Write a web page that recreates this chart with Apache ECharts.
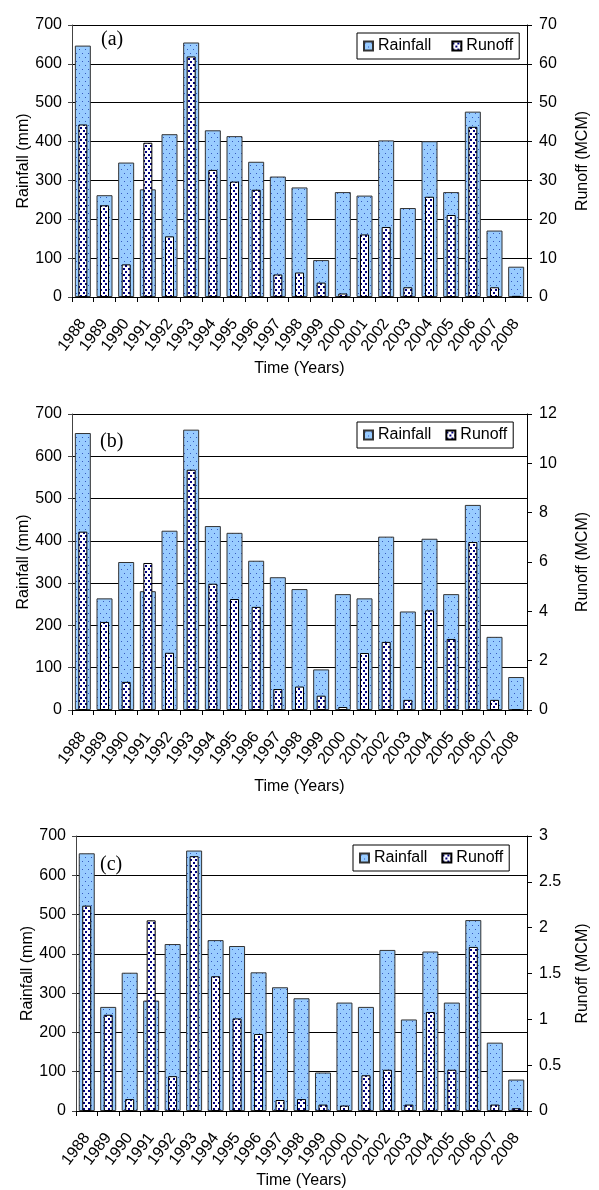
<!DOCTYPE html>
<html>
<head>
<meta charset="utf-8">
<script src="https://cdn.jsdelivr.net/npm/echarts@6/dist/echarts.min.js"></script>
<style>
html,body{margin:0;padding:0;background:#fff;}
#chart{width:599px;height:1190px;}
</style>
</head>
<body>
<div id="chart"></div>
<script>
// ---- data ----
const years = ['1988','1989','1990','1991','1992','1993','1994','1995','1996','1997','1998','1999','2000','2001','2002','2003','2004','2005','2006','2007','2008'];

const rainA = [647,262,346,277,419,655,429,414,348,310,282,95,270,261,403,229,401,270,477,171,78];
const runoffA = [44.4,23.6,8.4,39.7,15.6,61.9,32.7,29.7,27.6,5.8,6.3,3.7,0.9,16.1,18.0,2.5,25.8,21.1,43.8,2.5,0.3];

const rainB = [655,264,350,281,424,663,435,419,353,314,286,96,274,264,410,233,405,274,485,173,78];
const runoffB = [7.23,3.57,1.14,5.96,2.32,9.74,5.12,4.50,4.18,0.85,0.95,0.58,0.12,2.31,2.76,0.41,4.04,2.88,6.81,0.41,0.02];

const rainC = [656,265,352,281,425,663,435,420,353,315,287,98,276,265,410,233,406,276,486,174,80];
const runoffC = [2.24,1.05,0.13,2.08,0.38,2.78,1.47,1.01,0.84,0.12,0.13,0.07,0.06,0.39,0.45,0.07,1.08,0.45,1.79,0.07,0.03];

const panelLabels = ['(a)','(b)','(c)'];
const rainAxisMax = [700,700,700];
const rainAxisStep = [100,100,100];
const runoffAxisMax = [70,12,3];
const runoffAxisStep = [10,2,0.5];

// ---- patterns ----
function makePattern(bg, fg, w, h, dots, ds){
  const c = document.createElement('canvas');
  c.width = w; c.height = h;
  const g = c.getContext('2d');
  g.fillStyle = bg; g.fillRect(0,0,w,h);
  g.fillStyle = fg;
  dots.forEach(p => g.fillRect(p[0], p[1], ds, ds));
  return {image: c, repeat: 'repeat'};
}
const rainPattern = makePattern('#99CCFF', '#3559C0', 6, 8, [[1,1],[4,5]], 1);
const runoffPattern = makePattern('#FFFFFF', '#000080', 5, 6, [[0,1],[3,4]], 2);

const FONT = 'Liberation Sans';

const grids = [
  {left:72, right:57, top:25, height:272},
  {left:72, right:58, top:414, height:296},
  {left:76, right:61, top:836, height:276}
];
const legendPos = [
  {left:357, top:33, itemGap:20},
  {left:357, top:422, itemGap:14},
  {left:353, top:845, itemGap:14}
];
const labelPos = [
  {left:101, top:30},
  {left:100, top:432},
  {left:100, top:855}
];
const xNameGap = [64, 69, 62];
const rainSets = [rainA, rainB, rainC];
const runoffSets = [runoffA, runoffB, runoffC];

const xAxes = [], yAxes = [], series = [], legends = [], graphics = [];

for (let i = 0; i < 3; i++) {
  xAxes.push({
    type:'category', gridIndex:i, data:years,
    axisLine:{show:true, lineStyle:{color:'#000', width:1}},
    axisTick:{show:true, length:5, lineStyle:{color:'#000'}},
    axisLabel:{rotate:53, interval:0, margin:24, fontSize:16, fontFamily:FONT, color:'#000'},
    name:'Time (Years)', nameLocation:'middle', nameGap:xNameGap[i], nameMoveOverlap:false,
    nameTextStyle:{fontSize:16, fontFamily:FONT, color:'#000'}
  });
  xAxes.push({type:'category', gridIndex:i, data:years, show:false});

  yAxes.push({
    type:'value', gridIndex:i, position:'left', min:0, max:rainAxisMax[i], interval:rainAxisStep[i],
    axisLine:{show:true, lineStyle:{color:'#444'}},
    axisTick:{show:true, length:4, lineStyle:{color:'#444'}},
    axisLabel:{margin:10, fontSize:16, fontFamily:FONT, color:'#000'},
    splitLine:{show:true, lineStyle:{color:'#000', width:1}},
    name:'Rainfall (mm)', nameLocation:'middle', nameGap:40, nameMoveOverlap:false,
    nameTextStyle:{fontSize:16, fontFamily:FONT, color:'#000'}
  });
  yAxes.push({
    type:'value', gridIndex:i, position:'right', min:0, max:runoffAxisMax[i], interval:runoffAxisStep[i],
    axisLine:{show:true, lineStyle:{color:'#000'}},
    axisTick:{show:true, length:5, lineStyle:{color:'#000'}},
    axisLabel:{margin:12, fontSize:16, fontFamily:FONT, color:'#000'},
    splitLine:{show:false},
    name:'Runoff (MCM)', nameLocation:'middle', nameGap:48, nameMoveOverlap:false,
    nameTextStyle:{fontSize:16, fontFamily:FONT, color:'#000'}
  });

  series.push({
    type:'bar', name:'Rainfall', xAxisIndex:2*i, yAxisIndex:2*i, data:rainSets[i],
    barWidth:16, z:2,
    itemStyle:{color:rainPattern, borderColor:'#333', borderWidth:1}
  });
  series.push({
    type:'bar', name:'Runoff', xAxisIndex:2*i+1, yAxisIndex:2*i+1, data:runoffSets[i],
    barWidth:9, z:3,
    itemStyle:{color:runoffPattern, borderColor:'#000', borderWidth:1}
  });

  legends.push({
    left:legendPos[i].left, top:legendPos[i].top, orient:'horizontal',
    data:['Rainfall','Runoff'], icon:'rect', itemWidth:9, itemHeight:9,
    itemGap:legendPos[i].itemGap, padding:[5,6,5,6],
    borderColor:'#000', borderWidth:1, backgroundColor:'#fff',
    selectedMode:false,
    textStyle:{fontSize:16, fontFamily:FONT, color:'#000'}
  });

  graphics.push({
    type:'text', left:labelPos[i].left, top:labelPos[i].top, z:10,
    style:{text:panelLabels[i], font:'20px "Liberation Serif"', fill:'#000'}
  });
}

const chart = echarts.init(document.getElementById('chart'), null, {renderer:'canvas'});
chart.setOption({
  animation:false,
  backgroundColor:'#fff',
  grid:grids,
  xAxis:xAxes,
  yAxis:yAxes,
  legend:legends,
  series:series,
  graphic:graphics
});
</script>
</body>
</html>
